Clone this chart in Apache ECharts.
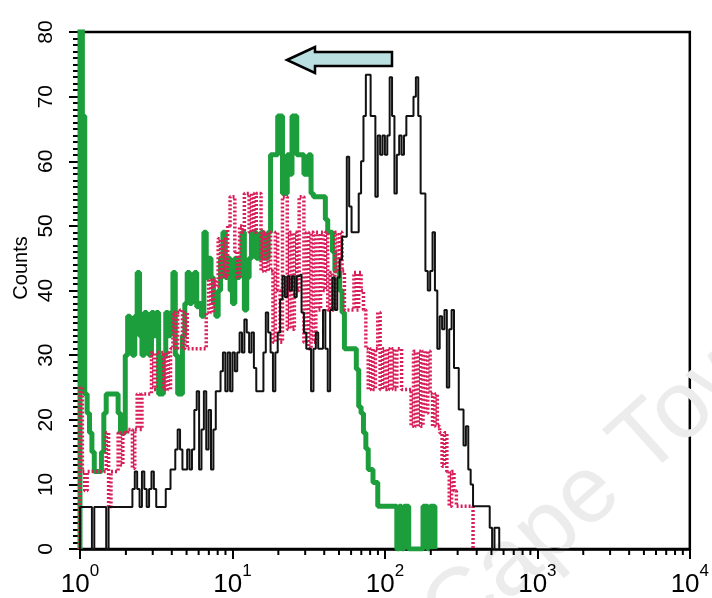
<!DOCTYPE html>
<html>
<head>
<meta charset="utf-8">
<script src="https://cdn.jsdelivr.net/npm/echarts@6/dist/echarts.min.js"></script>
<style>
html,body{margin:0;padding:0;background:#fff;}
#chart{width:712px;height:598px;}
</style>
</head>
<body>
<div id="chart"></div>
<script>
// Histogram: 256 log channels spanning 10^0 .. 10^4 (64 channels per decade)
const channelsPerDecade = 64;
const xDecades = [1, 10, 100, 1000, 10000];
const yTicks = [0, 10, 20, 30, 40, 50, 60, 70, 80];

// black thin line
const blackCounts = [
6.5,6.5,6.5,6.5,6.5,0,6.5,6.5,6.5,6.5,
6.5,0,6.5,6.5,6.5,6.5,6.5,6.5,6.5,6.5,
6.5,6.5,9.3,12,9.3,6.5,12,9.3,6.5,9.3,
12,9.3,6.5,6.5,6.5,6.5,9.3,9.3,12.3,12.3,
15.4,18.5,15.4,12.3,12.3,15.4,12.3,15.4,21.5,24.4,
12.3,18.5,24.4,15.4,21.5,12.3,18.5,24.4,24.4,27.5,
30.4,24.4,30.4,24.4,30.4,27.5,30.4,33.5,30.4,35.5,
33.5,30.4,33.5,28,24.4,24.4,24.4,30.4,36.6,33.5,
30.4,24.4,30.4,33.5,38.6,42.2,39,42.2,40,42.2,
39,42.2,42.5,36.6,33.5,31,31,24.4,31,33.5,
31,31,37,31,24.4,37,42,37,42,44.8,
48.3,48.3,60.7,53,49,49,49,55,60,67,
73.4,73.4,67,67,54.5,64,61,64,61,64,
73,67,55,61,64,61,64,67,67,67,
70,73,67,55,55,43,40,43,49,40,
31,36,34,37,25,34,37,28,28,21.6,
21.6,16,19,12.3,10,6.6,6.6,6.6,6.6,6.6,
6.6,6.6,3.3,0,3.3,3.3
];

// green thick line
const greenCounts = [
82,67,24,21,18,15,12,12,12,15,
21,24,24,24,24,24,21,18,18,30,
36,33,30,36,42.8,33,30,36.6,33,30,
36.6,33,36.6,24,24,30,36.6,33,36.6,42.8,
30,24,24,33,38,42.8,38,40.6,42.8,37.5,
38,36,49,42,45,42,38,36,40,45,
49,42,45,40,38,45,42,45,49,37,
42,45,49,49,45,45,49,45,45,49,
61,61,61,67,67,55,55,61,58,67,
67,61,61,61,58,58,61,55,54.5,54.5,
54.5,54.5,54.5,51,49,49,46,43,43,40,
36.6,31,31,31,31,31,27.8,22,21,18,
15.5,12.3,12.3,10.3,10.3,6.6,6.6,6.6,6.6,6.6,
6.6,6.6,6.6,0,6.6,0,6.6,6.6,0,0,
0,0,0,0,6.6,6.6,0,6.6,6.6
];

// crimson dotted line
const pinkCounts = [
25,12,9,12,12,12,12,12,12,12,
12,18,6.5,12,12,12,18,13,18,18,
18.5,18.5,12.5,18.5,24,18.5,24,24,24,24,
30.4,24.7,30.4,30.4,30.4,24.7,30.4,24.7,31,36.6,
31,36.6,37,31,36.6,31,31,31,31,31,
31,31,31,36.6,41.7,36.6,41.7,40.6,48,42,
48,42,50,54.5,54.5,46,42,50,49,55,
55,49,55,49,55,55,43,49,43,49,
43,32,49,40,32,54.5,54.5,34,49,34,
49,40,54.5,54.5,32,49,31,49,32,49,
37,49,40,49,37,42.8,37,49,43,49,
43,37,37,37,37,42.8,37,42.8,40,37,
31,24.7,31,24.7,31,36.6,24.7,31,24.7,31,
24.7,31,24.7,31,31,24.7,24.7,24.7,24.7,19,
30.6,19,30.6,19,30.6,21,30.6,24,19,24,
19,18,12.8,18,12,6.6,12,9,6.6,6.6,
6.6,6.6,6.6,6.6,6.6
];

function channelEdge(k){ return Math.pow(10, k / channelsPerDecade); }
function toSteps(arr){
  const d = [[channelEdge(0), 0]];
  arr.forEach((c, k) => d.push([channelEdge(k), c]));
  d.push([channelEdge(arr.length), 0]);
  return d;
}
const xMinorTicks = [];
for (let i = 0; i < xDecades.length - 1; i++) {
  for (let m = 2; m <= 9; m++) xMinorTicks.push([m * xDecades[i], 0]);
}
const yLabelData = yTicks.map(v => [xDecades[0], v]);

const FONT = '"Liberation Sans", Arial, Helvetica, sans-serif';
const chart = echarts.init(document.getElementById('chart'), null, {renderer: 'canvas'});
chart.setOption({
  animation: false,
  backgroundColor: '#fff',
  grid: {left: 80, right: 19, top: 32, bottom: 48, show: true, borderColor: '#000', borderWidth: 2.5, backgroundColor: 'transparent'},
  xAxis: {
    type: 'log', logBase: 10, min: xDecades[0], max: xDecades[xDecades.length - 1],
    axisLine: {show: true, lineStyle: {color: '#000', width: 2.5}},
    axisTick: {show: true, length: 10, lineStyle: {color: '#000', width: 2}},
    minorTick: {show: false},
    splitLine: {show: false},
    axisLabel: {
      margin: 14,
      color: '#000',
      formatter: v => '{b|10}{s|' + Math.round(Math.log10(v)) + '}',
      rich: {
        b: {fontSize: 26, fontFamily: FONT, color: '#000', padding: [9, 0, 0, 0], verticalAlign: 'bottom'},
        s: {fontSize: 17, fontFamily: FONT, color: '#000', verticalAlign: 'top'}
      }
    }
  },
  yAxis: {
    type: 'value', min: yTicks[0], max: yTicks[yTicks.length - 1], interval: 10,
    axisLine: {show: true, lineStyle: {color: '#000', width: 2.5}},
    axisTick: {show: true, length: 11, lineStyle: {color: '#000', width: 2}},
    minorTick: {show: true, splitNumber: 10, length: 7, lineStyle: {color: '#000', width: 2}},
    splitLine: {show: false},
    axisLabel: {show: false}
  },
  graphic: [
    {type: 'text', z: 0, x: 470, y: 665, rotation: 42 * Math.PI / 180,
     style: {text: 'Cape Town', font: '95px ' + FONT, fill: '#ececec', textVerticalAlign: 'bottom'}},
    {type: 'text', z: 10, x: 21, y: 268, rotation: Math.PI / 2,
     style: {text: 'Counts', font: '20px ' + FONT, fill: '#000', textAlign: 'center', textVerticalAlign: 'middle'}},
    {type: 'polygon', z: 10,
     shape: {points: [[287, 60], [315, 47], [315, 52], [392, 52], [392, 66], [315, 66], [315, 73]]},
     style: {fill: '#b9dfe1', stroke: '#000', lineWidth: 2.5, lineJoin: 'miter'}}
  ],
  series: [
    {name: 'green', type: 'line', step: 'end', showSymbol: false, data: toSteps(greenCounts),
     lineStyle: {color: '#1d9e3c', width: 5}, z: 2},
    {name: 'crimson', type: 'line', step: 'end', showSymbol: false, data: toSteps(pinkCounts),
     lineStyle: {color: '#d81f5a', width: 3.5, type: [2, 2]}, z: 3},
    {name: 'black', type: 'line', step: 'end', showSymbol: false, data: toSteps(blackCounts),
     lineStyle: {color: '#111', width: 2}, z: 4},
    {name: 'minorTicks', type: 'custom', silent: true, clip: false, data: xMinorTicks,
     encode: {x: 0, y: 1}, z: 5,
     renderItem: (params, api) => {
       const p = api.coord([api.value(0), api.value(1)]);
       return {type: 'line', shape: {x1: p[0], y1: p[1], x2: p[0], y2: p[1] + 6},
               style: {stroke: '#000', lineWidth: 2}};
     }},
    {name: 'yLabels', type: 'custom', silent: true, clip: false, data: yLabelData,
     encode: {x: 0, y: 1}, z: 5,
     renderItem: (params, api) => {
       const p = api.coord([api.value(0), api.value(1)]);
       return {type: 'text', x: p[0] - 23, y: p[1], rotation: Math.PI / 2,
               style: {text: String(api.value(1)), font: '21px ' + FONT, fill: '#000',
                       align: 'center', verticalAlign: 'bottom'}};
     }}
  ]
});
</script>
</body>
</html>
